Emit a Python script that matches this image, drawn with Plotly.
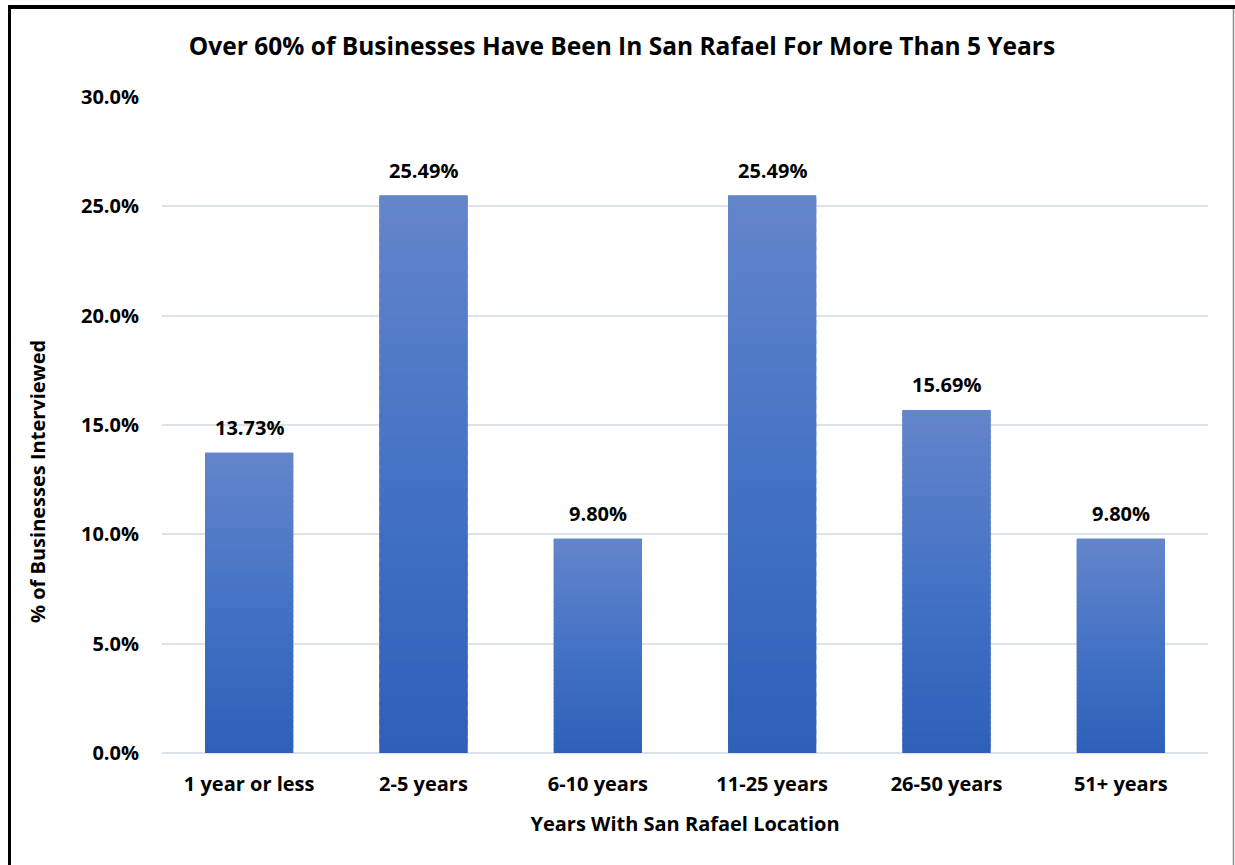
import plotly.graph_objects as go

# Survey results: share of interviewed businesses by tenure in San Rafael
categories = ["1 year or less", "2-5 years", "6-10 years", "11-25 years", "26-50 years", "51+ years"]
share_pct = [13.73, 25.49, 9.80, 25.49, 15.69, 9.80]
y_ticks = [0, 5, 10, 15, 20, 25, 30]

FONT = "Open Sans"
W, H = 1235, 865
ML, MR, MT, MB = 162, 27, 97, 112
PW, PH = W - ML - MR, H - MT - MB

# vertical gradient: light tint at the top, base blue in the middle, darker at the bottom
TOP = (100, 133, 202)
MID = (68, 115, 197)
BOT = (46, 96, 185)


def lerp(a, b, t):
    return tuple(round(a[i] + (b[i] - a[i]) * t) for i in range(3))


def grad_color(f):
    # f = 0 at the bar base, 1 at the bar top
    if f < 0.5:
        c = lerp(BOT, MID, f / 0.5)
    else:
        c = lerp(MID, TOP, (f - 0.5) / 0.5)
    return "rgb(%d,%d,%d)" % c


fig = go.Figure()

# solid under-bar keeps the slice seams filled
fig.add_trace(go.Bar(
    x=categories, y=share_pct,
    marker=dict(color="rgb(%d,%d,%d)" % MID, line=dict(width=0)),
    hoverinfo="skip", showlegend=False,
))

# overlapping horizontal slices of each bar, coloured bottom to top
N = 60
for k in range(N):
    span = min(1.6, N - k)
    fig.add_trace(go.Bar(
        x=categories,
        y=[v * span / N for v in share_pct],
        base=[v * k / N for v in share_pct],
        marker=dict(color=grad_color((k + 0.5) / N), line=dict(width=0)),
        hoverinfo="skip",
        showlegend=False,
    ))

# value labels above each bar
for c, v in zip(categories, share_pct):
    fig.add_annotation(
        x=c, y=v, text=f"<b>{v:.2f}%</b>", showarrow=False,
        yanchor="bottom", yshift=10,
        font=dict(family=FONT, size=20, color="#000000"),
    )


def px_x(p):
    return (p - ML) / PW


def px_y(p):
    return (H - MB - p) / PH


# vertical axis title, set a little below the plot's centre
fig.add_annotation(
    xref="paper", yref="paper", x=px_x(37), y=px_y(482),
    xanchor="center", yanchor="middle", textangle=-90, showarrow=False,
    text="<b>% of Businesses Interviewed</b>",
    font=dict(family=FONT, size=20, color="#000000"),
)

# outer frame of the chart
frame = [
    dict(x0=px_x(9.5), x1=px_x(9.5), y0=px_y(5), y1=px_y(880), color="#000000", width=3),
    dict(x0=px_x(8), x1=px_x(1236), y0=px_y(7), y1=px_y(7), color="#000000", width=4),
    dict(x0=px_x(1233.5), x1=px_x(1233.5), y0=px_y(9), y1=px_y(880), color="#8c8c8c", width=1.5),
]
for f in frame:
    fig.add_shape(type="line", xref="paper", yref="paper",
                  x0=f["x0"], x1=f["x1"], y0=f["y0"], y1=f["y1"],
                  line=dict(color=f["color"], width=f["width"]))

fig.update_layout(
    width=W, height=H,
    margin=dict(l=ML, r=MR, t=MT, b=MB),
    barmode="overlay",
    bargap=0.495,
    paper_bgcolor="#ffffff",
    plot_bgcolor="#ffffff",
    font=dict(family=FONT, color="#000000"),
    title=dict(
        text="<b>Over 60% of Businesses Have Been In San Rafael For More Than 5 Years</b>",
        x=622 / W, xanchor="center", y=1 - 46 / H, yanchor="middle",
        font=dict(family=FONT, size=24.5, color="#000000"),
    ),
    xaxis=dict(
        showgrid=False, showline=False, ticks="",
        tickfont=dict(family=FONT, size=20, color="#000000"),
        tickprefix="<b>", ticksuffix="</b>", ticklabelstandoff=17,
        title=dict(text="<b>Years With San Rafael Location</b>",
                   font=dict(family=FONT, size=20, color="#000000"), standoff=20),
    ),
    yaxis=dict(
        range=[0, 30], tickvals=y_ticks,
        ticktext=[f"<b>{t:.1f}%</b>" for t in y_ticks],
        showgrid=True, gridcolor="#dde1ea", gridwidth=1.5,
        zeroline=True, zerolinecolor="#dde1ea", zerolinewidth=1.5,
        showline=False, ticks="", ticklabelstandoff=22,
        tickfont=dict(family=FONT, size=20, color="#000000"),
    ),
)

fig.write_html("out.html")
